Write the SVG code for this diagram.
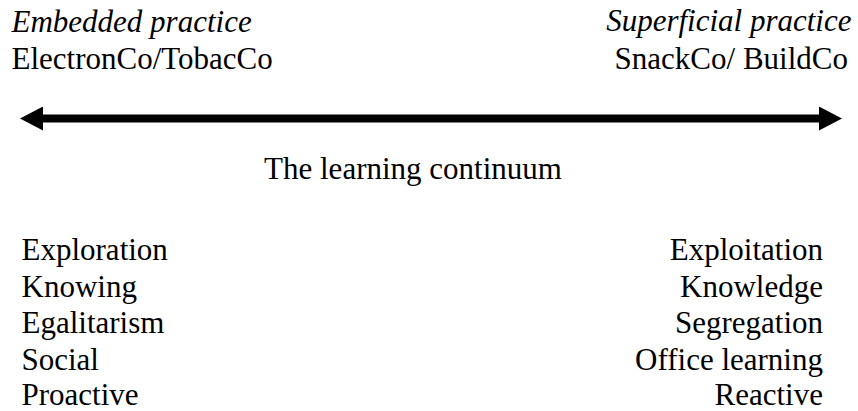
<svg xmlns="http://www.w3.org/2000/svg" width="858" height="411" viewBox="0 0 858 411">
  <style>
    text { font-family: "Liberation Serif", "Times New Roman", serif; font-size: 31px; fill: #000; }
    .it { font-style: italic; }
    .end { text-anchor: end; }
    .mid { text-anchor: middle; }
  </style>
  <defs>
    <marker id="head" markerUnits="userSpaceOnUse" markerWidth="23" markerHeight="24" refX="3" refY="12" orient="auto-start-reverse">
      <path d="M0,0 L23,12 L0,24 Z" fill="#000"/>
    </marker>
  </defs>
  <rect width="858" height="411" fill="#fff"/>

  <g id="embedded">
    <text x="11.5" y="32" class="it">Embedded practice</text>
    <text x="11.5" y="68.5">ElectronCo/TobacCo</text>
  </g>
  <g id="superficial">
    <text x="851.5" y="30.5" class="it end">Superficial practice</text>
    <text x="848" y="68.5" class="end">SnackCo/ BuildCo</text>
  </g>

  <g id="connectors">
    <path d="M40,118.5 L822,118.5" stroke="#000" stroke-width="8" fill="none" marker-start="url(#head)" marker-end="url(#head)"/>
  </g>

  <g id="continuum-label">
    <text x="413" y="179" class="mid">The learning continuum</text>
  </g>

  <g id="left-traits">
    <text x="21.5" y="260">Exploration</text>
    <text x="21.5" y="296.5">Knowing</text>
    <text x="21.5" y="333">Egalitarism</text>
    <text x="21.5" y="369.5">Social</text>
    <text x="21.5" y="405">Proactive</text>
  </g>
  <g id="right-traits">
    <text x="823" y="260" class="end">Exploitation</text>
    <text x="823" y="296.5" class="end">Knowledge</text>
    <text x="823" y="333" class="end">Segregation</text>
    <text x="823" y="369.5" class="end">Office learning</text>
    <text x="823" y="405" class="end">Reactive</text>
  </g>
</svg>
